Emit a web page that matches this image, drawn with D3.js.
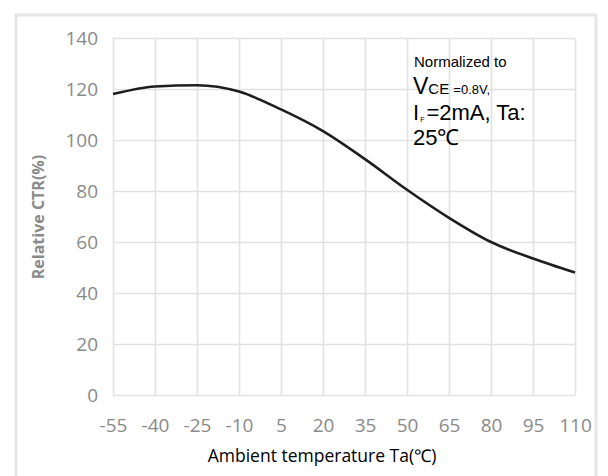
<!DOCTYPE html>
<html>
<head>
<meta charset="utf-8">
<script src="https://cdn.jsdelivr.net/npm/d3@7"></script>
<style>
  body { margin: 0; background: #fff; }
  svg { display: block; }
</style>
</head>
<body>
<div id="chart"></div>
<script>
const w = 608, h = 476
// temperature (C) vs relative CTR (%)
const temps = [-55, -40, -25, -10, 5, 20, 35, 50, 65, 80, 95, 110]
const ctr = [118, 121, 121.5, 119, 112, 103.5, 92.5, 80.5, 69.5, 60, 53.5, 48]
const yTicks = [0, 20, 40, 60, 80, 100, 120, 140]

var margin = {top: 38, right: 33, bottom: 81, left: 113},
  width = w - margin.left - margin.right,
  height = h - margin.top - margin.bottom

var svg = d3.select("#chart").append("svg")
  .attr("width", w)
  .attr("height", h)

// faint outer frame
svg.append("rect")
  .attr("x", 16).attr("y", 15)
  .attr("width", 580).attr("height", 480)
  .attr("fill", "none")
  .attr("stroke", "#e6e6e6")
  .attr("stroke-width", 3)

var g = svg.append("g")
  .attr("transform", "translate(" + margin.left + "," + margin.top + ")")

var xScale = d3.scaleLinear().domain([-55, 110]).range([0, width])
var yScale = d3.scaleLinear().domain([0, 140]).range([height, 0])

var xAxis = d3.axisBottom(xScale).tickValues(temps).tickSize(-height).tickPadding(24)
  .tickFormat(function(d) { return String(d) })
var yAxis = d3.axisLeft(yScale).tickValues(yTicks).tickSize(-width).tickPadding(15)

g.append("g")
  .attr("class", "x axis")
  .attr("transform", "translate(0," + height + ")")
  .call(xAxis)

g.append("g")
  .attr("class", "y axis")
  .call(yAxis)

g.selectAll(".axis .domain").remove()
g.selectAll(".axis line")
  .attr("stroke", "#e2e2e2")
  .attr("stroke-width", 1.6)
g.selectAll(".axis text")
  .attr("fill", "#8a8a8a")
  .style("font-family", "'Open Sans', sans-serif")
  .style("font-size", "19px")
g.selectAll(".y.axis text").attr("dy", "0.36em")

var line = d3.line()
  .curve(d3.curveMonotoneX)
  .x(function(d, i) { return xScale(temps[i]) })
  .y(function(d) { return yScale(d) })

g.append("path")
  .attr("d", line(ctr))
  .attr("fill", "none")
  .attr("stroke", "#1e1e1e")
  .attr("stroke-width", 2.6)

// axis titles
svg.append("text")
  .attr("transform", "translate(44,217) rotate(-90)")
  .attr("text-anchor", "middle")
  .attr("fill", "#8a8a8a")
  .style("font-family", "'Open Sans', sans-serif")
  .style("font-weight", "bold")
  .style("font-size", "16px")
  .text("Relative CTR(%)")

svg.append("text")
  .attr("x", 322).attr("y", 462)
  .attr("text-anchor", "middle")
  .attr("fill", "#000")
  .style("font-family", "'Open Sans', sans-serif")
  .style("font-size", "17.5px")
  .text("Ambient temperature Ta(℃)")

// note, one text block with tspan lines (tighter Liberation metrics)
var note = svg.append("text")
  .attr("x", 414).attr("y", 67)
  .style("font-family", "'Liberation Sans', sans-serif")
  .attr("fill", "#000")
note.append("tspan").style("font-size", "15px").text("Normalized to")
note.append("tspan").attr("x", 413).attr("dy", 27).style("font-size", "23px").text("V")
note.append("tspan").style("font-size", "15px").text("CE ")
note.append("tspan").style("font-size", "13px").text("=0.8V,")
note.append("tspan").attr("x", 413).attr("dy", 26).style("font-size", "22px").text("I")
note.append("tspan").style("font-size", "7px").attr("dx", 1).attr("dy", 2).text("F")
note.append("tspan").style("font-size", "22px").attr("dx", 2).attr("dy", -2).text("=2mA, Ta:")
note.append("tspan").attr("x", 413).attr("dy", 25).style("font-size", "22px").text("25℃")
</script>
</body>
</html>
